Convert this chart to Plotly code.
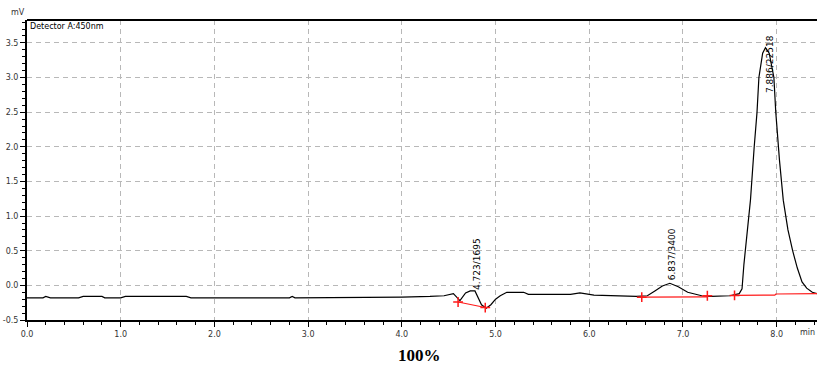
import plotly.graph_objects as go

# Chromatogram trace (time in min, signal in mV)
time_min = [0.0, 0.17, 0.2, 0.25, 0.55, 0.6, 0.8, 0.83, 1.0, 1.05, 1.7, 1.75, 2.8, 2.83, 2.86,
            3.5, 4.0, 4.3, 4.45, 4.55, 4.62, 4.68, 4.73, 4.78, 4.85, 4.9, 4.95, 5.0, 5.05, 5.12,
            5.3, 5.35, 5.8, 5.9, 6.05, 6.5, 6.62, 6.7, 6.78, 6.86, 6.95, 7.05, 7.2, 7.3, 7.5,
            7.6, 7.63, 7.65, 7.68, 7.72, 7.76, 7.79, 7.81, 7.85, 7.88, 7.92, 7.97, 7.99, 8.03,
            8.07, 8.12, 8.17, 8.22, 8.27, 8.32, 8.38, 8.43]
signal_mv = [-0.18, -0.18, -0.16, -0.18, -0.18, -0.16, -0.16, -0.18, -0.18, -0.16, -0.16, -0.18, -0.18, -0.16, -0.18,
             -0.18, -0.17, -0.16, -0.15, -0.12, -0.22, -0.11, -0.08, -0.08, -0.28, -0.33, -0.28, -0.2, -0.15, -0.1,
             -0.1, -0.13, -0.13, -0.11, -0.14, -0.16, -0.15, -0.08, -0.01, 0.03, -0.02, -0.1, -0.15, -0.16, -0.15,
             -0.12, -0.05, 0.3, 0.7, 1.23, 2.0, 2.5, 3.0, 3.35, 3.43, 3.35, 3.0, 2.5, 1.8,
             1.23, 0.8, 0.5, 0.25, 0.05, -0.04, -0.1, -0.12]

# Integration baselines (red)
base_x = [4.6, 4.89, None, 6.56, 7.26, None, 7.55, 7.98, 7.99, 8.43]
base_y = [-0.24, -0.32, None, -0.17, -0.165, None, -0.145, -0.14, -0.125, -0.12]
mark_x = [4.6, 4.89, 6.56, 7.26, 7.55]
mark_y = [-0.24, -0.32, -0.17, -0.15, -0.145]

# Peak labels
peak_labels = ["4.723/1695", "6.837/3400", "7.886/22518"]
peak_x = [4.81, 6.88, 7.93]
peak_label_y = [-0.1, 0.04, 2.75]

x_ticks = [0, 1, 2, 3, 4, 5, 6, 7, 8]
y_ticks = [-0.5, 0.0, 0.5, 1.0, 1.5, 2.0, 2.5, 3.0, 3.5]

fig = go.Figure()
fig.add_trace(go.Scatter(x=time_min, y=signal_mv, mode="lines",
                         line=dict(color="black", width=1.2), showlegend=False))
fig.add_trace(go.Scatter(x=base_x, y=base_y, mode="lines",
                         line=dict(color="#ff1a1a", width=1.2), showlegend=False))
fig.add_trace(go.Scatter(x=mark_x, y=mark_y, mode="markers",
                         marker=dict(symbol="cross-thin", size=7,
                                     line=dict(color="#ff1a1a", width=1.5)),
                         showlegend=False))

for lab, px, py in zip(peak_labels, peak_x, peak_label_y):
    fig.add_annotation(x=px, y=py, text=lab, textangle=-90, showarrow=False,
                       xanchor="center", yanchor="bottom",
                       font=dict(family="DejaVu Sans", size=9, color="black"))

fig.add_annotation(x=0.01, y=3.83, text="Detector A:450nm", showarrow=False,
                   xanchor="left", yanchor="top",
                   font=dict(family="DejaVu Sans", size=8, color="black"))
fig.add_annotation(xref="paper", yref="paper", x=-0.012, y=1.0, text="mV", showarrow=False,
                   xanchor="center", yanchor="bottom", yshift=1,
                   font=dict(family="DejaVu Sans", size=8, color="#333"))
fig.add_annotation(xref="paper", yref="paper", x=1.0, y=0, text="min", showarrow=False,
                   xanchor="right", yanchor="top", yshift=-6,
                   font=dict(family="DejaVu Sans", size=8, color="#333"))
fig.add_annotation(xref="paper", yref="paper", x=0.497, y=0, text="<b>100%</b>", showarrow=False,
                   xanchor="center", yanchor="top", yshift=-24,
                   font=dict(family="Liberation Serif", size=17, color="black"))

grid_style = dict(showgrid=True, gridcolor="#b8b8b8", griddash="5px,4px", gridwidth=1)

fig.update_xaxes(range=[0, 8.43], tickvals=x_ticks, ticktext=[f"{v:.1f}" for v in x_ticks],
                 automargin=False, **grid_style,
                 showline=True, linecolor="black", linewidth=2, mirror=False,
                 ticks="outside", ticklen=5, tickcolor="black", tickwidth=1,
                 minor=dict(dtick=0.2, ticks="outside", ticklen=3, tickcolor="black", showgrid=False),
                 tickfont=dict(family="DejaVu Sans", size=8, color="#333"), zeroline=False)
fig.update_yaxes(range=[-0.5, 3.83], tickvals=y_ticks, ticktext=[f"{v:.1f}" for v in y_ticks],
                 automargin=False, **grid_style,
                 showline=True, linecolor="black", linewidth=2,
                 ticks="outside", ticklen=5, tickcolor="black", tickwidth=1,
                 minor=dict(dtick=0.1, ticks="outside", ticklen=3, tickcolor="black", showgrid=False),
                 tickfont=dict(family="DejaVu Sans", size=8, color="#333"), zeroline=False)

fig.add_shape(type="line", xref="paper", yref="paper", x0=0, x1=1, y0=1, y1=1,
              line=dict(color="black", width=2))

fig.update_layout(width=817, height=370, margin=dict(l=27, r=0, t=20, b=50),
                  plot_bgcolor="white", paper_bgcolor="white")

fig.write_html("out.html", config={"displayModeBar": False},
               post_script="document.body.style.margin='0';document.body.style.overflow='hidden';")
